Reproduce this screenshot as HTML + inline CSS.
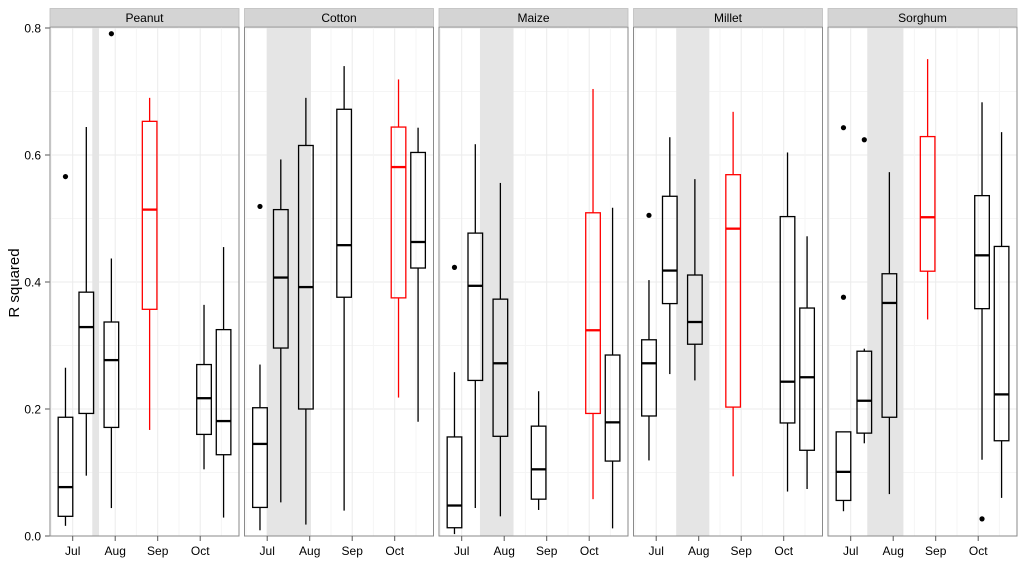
<!DOCTYPE html>
<html><head><meta charset="utf-8"><style>
body{margin:0;background:#fff;}
svg{display:block;font-family:"Liberation Sans",sans-serif;}
</style></head><body>
<svg id="chart" width="1024" height="565" viewBox="0 0 1024 565" xmlns="http://www.w3.org/2000/svg">
<text x="19" y="283" font-size="15" text-anchor="middle" transform="rotate(-90 19 283)">R squared</text>
</svg>
<script>
const crops = ["Peanut","Cotton","Maize","Millet","Sorghum"];
const monthLabels = ["Jul","Aug","Sep","Oct"];
const yTicks = [0,0.2,0.4,0.6,0.8];
const yTickLabels = ["0.0","0.2","0.4","0.6","0.8"];
// box x positions in month units (Jul = 0)
const boxPos = [-0.17,0.32,0.91,1.81,3.09,3.55];
const shadeStart = [0.46,-0.01,0.43,0.47,0.39];
const shadeEnd = [0.62,1.03,1.22,1.25,1.24];
const redIndex = [3,4,4,3,3];
// [lower, q1, median, q3, upper]
const peanutStats = [[0.016,0.031,0.077,0.187,0.265],[0.095,0.193,0.329,0.384,0.644],[0.044,0.171,0.277,0.337,0.437],[0.167,0.357,0.514,0.653,0.69],[0.105,0.16,0.217,0.27,0.364],[0.029,0.128,0.181,0.325,0.455]];
const cottonStats = [[0.009,0.045,0.145,0.202,0.27],[0.053,0.296,0.407,0.514,0.593],[0.018,0.2,0.392,0.615,0.69],[0.04,0.376,0.458,0.672,0.74],[0.218,0.375,0.581,0.644,0.719],[0.18,0.422,0.463,0.604,0.643]];
const maizeStats = [[0.003,0.013,0.048,0.156,0.258],[0.044,0.245,0.394,0.477,0.617],[0.031,0.157,0.272,0.373,0.556],[0.041,0.058,0.105,0.173,0.228],[0.058,0.193,0.324,0.509,0.704],[0.012,0.118,0.179,0.285,0.517]];
const milletStats = [[0.119,0.189,0.272,0.309,0.403],[0.255,0.366,0.418,0.535,0.628],[0.245,0.302,0.337,0.411,0.562],[0.094,0.203,0.484,0.569,0.668],[0.07,0.178,0.243,0.503,0.604],[0.074,0.135,0.25,0.359,0.472]];
const sorghumStats = [[0.039,0.056,0.101,0.164,0.164],[0.146,0.162,0.213,0.291,0.295],[0.066,0.187,0.367,0.413,0.573],[0.341,0.417,0.502,0.629,0.751],[0.12,0.358,0.442,0.536,0.683],[0.06,0.15,0.223,0.456,0.636]];
const peanutOut = [[0.566],[],[0.791],[],[],[]];
const cottonOut = [[0.519],[],[],[],[],[]];
const maizeOut = [[0.423],[],[],[],[],[]];
const milletOut = [[0.505],[],[],[],[],[]];
const sorghumOut = [[0.643,0.376],[0.624],[],[],[0.027],[]];

const allStats = [peanutStats,cottonStats,maizeStats,milletStats,sorghumStats];
const allOut = [peanutOut,cottonOut,maizeOut,milletOut,sorghumOut];

const NS="http://www.w3.org/2000/svg";
const svg=document.getElementById('chart');
function mk(tag,attrs,parent){const e=document.createElementNS(NS,tag);for(const k in attrs)e.setAttribute(k,attrs[k]);(parent||svg).appendChild(e);return e;}
const plotTop=27, plotBottom=536, panelW=189, step=194.5, left0=50;
const yUnit=(plotBottom-28)/0.8;
function yS(v){return plotBottom-v*yUnit;}
function xS(p,m){return left0+p*step+22.7+m*42.5;}

yTicks.forEach((t,i)=>{
  const tk=mk('line',{x1:45,x2:50,y1:yS(t),y2:yS(t),stroke:'#555','stroke-width':1});
  
  
  const tl=mk('text',{x:41,y:yS(t)+4.5,'font-size':12,'text-anchor':'end',fill:'#000'});
  tl.textContent=yTickLabels[i];
  
  
});

crops.forEach((crop,p)=>{
  const L=left0+p*step;
  const g=mk('g',{});
  
  
  mk('rect',{x:L,y:plotTop,width:panelW,height:plotBottom-plotTop,fill:'#fff'},g);
  for(let k=1;k<=8;k++){const v=k/10;mk('line',{x1:L,x2:L+panelW,y1:yS(v),y2:yS(v),stroke:(k%2==0)?'#ebebeb':'#f5f5f5','stroke-width':1},g);}
  for(let k=-1;k<8;k++){const m=k/2;const xx=xS(p,m);if(xx>L&&xx<L+panelW)mk('line',{x1:xx,x2:xx,y1:plotTop,y2:plotBottom,stroke:(k%2==0)?'#ebebeb':'#f5f5f5','stroke-width':1},g);}
  const sh=mk('rect',{x:xS(p,shadeStart[p]),y:plotTop,width:xS(p,shadeEnd[p])-xS(p,shadeStart[p]),height:plotBottom-plotTop,fill:'#e5e5e5'},g);
  
  
  allStats[p].forEach((s,i)=>{
    const col=(i===redIndex[p])?'#ff0000':'#000';
    const cx=xS(p,boxPos[i]);const hw=7.3;
    const bg=mk('g',{},g);
    
    
    mk('line',{x1:cx,x2:cx,y1:yS(s[4]),y2:yS(s[3]),stroke:col,'stroke-width':1.3},bg);
    mk('line',{x1:cx,x2:cx,y1:yS(s[1]),y2:yS(s[0]),stroke:col,'stroke-width':1.3},bg);
    mk('rect',{x:cx-hw,y:yS(s[3]),width:2*hw,height:yS(s[1])-yS(s[3]),fill:'none',stroke:col,'stroke-width':1.3},bg);
    mk('line',{x1:cx-hw,x2:cx+hw,y1:yS(s[2]),y2:yS(s[2]),stroke:col,'stroke-width':2.3},bg);
    allOut[p][i].forEach(o=>{
      const c=mk('circle',{cx:cx,cy:yS(o),r:2.6,fill:'#000'},bg);
      
      
    });
  });
  mk('rect',{x:L,y:plotTop,width:panelW,height:plotBottom-plotTop,fill:'none',stroke:'#8a8a8a','stroke-width':1},g);
  const st=mk('rect',{x:L,y:8.5,width:panelW,height:18,fill:'#d4d4d4',stroke:'#bdbdbd','stroke-width':0.8},g);
  
  
  const stt=mk('text',{x:L+panelW/2,y:22,'font-size':12,'text-anchor':'middle',fill:'#000'},g);
  stt.textContent=crop;
  
  
  monthLabels.forEach((m,i)=>{
    const xx=xS(p,i);
    const t=mk('line',{x1:xx,x2:xx,y1:plotBottom,y2:plotBottom+5,stroke:'#555','stroke-width':1},g);
    
    
    const tl=mk('text',{x:xx,y:555,'font-size':12,'text-anchor':'middle',fill:'#000'},g);
    tl.textContent=m;
    
    
  });
});
</script>
</body></html>
